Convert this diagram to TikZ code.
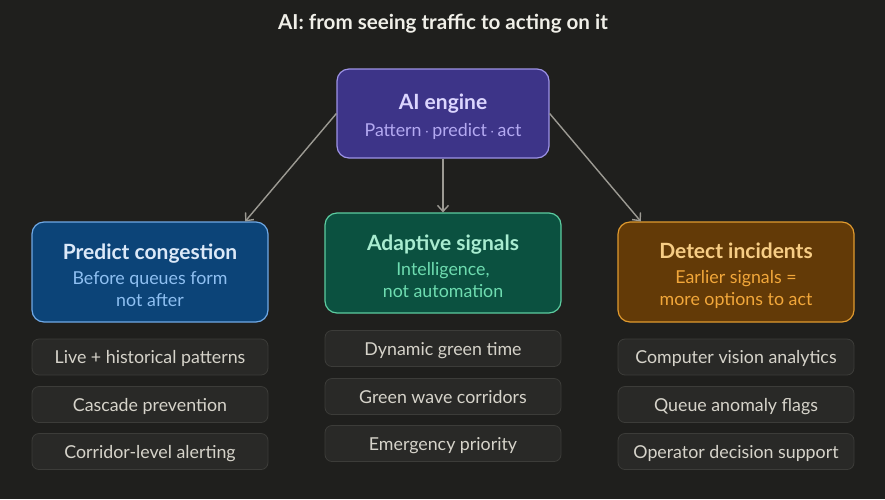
\documentclass[tikz,border=0pt]{standalone}
\usepackage{fontspec}
\setmainfont{Lato}
\usetikzlibrary{arrows.meta}

\definecolor{bg}{HTML}{1F1F1D}
\definecolor{heading}{HTML}{F0EFE8}
\definecolor{arrowc}{HTML}{9C9A93}
\definecolor{itemfill}{HTML}{292927}
\definecolor{itemline}{HTML}{3C3C39}
\definecolor{itemtext}{HTML}{D6D3CA}
\definecolor{aifill}{HTML}{3D3488}
\definecolor{ailine}{HTML}{9D93E6}
\definecolor{aititle}{HTML}{DCD6FF}
\definecolor{aisub}{HTML}{B4AAF2}
\definecolor{bluefill}{HTML}{0C4478}
\definecolor{blueline}{HTML}{6FA9E6}
\definecolor{bluetitle}{HTML}{DCE9F8}
\definecolor{bluesub}{HTML}{8FC0F2}
\definecolor{greenfill}{HTML}{0B5140}
\definecolor{greenline}{HTML}{5CCCA0}
\definecolor{greentitle}{HTML}{A8ECD0}
\definecolor{greensub}{HTML}{6EDCB0}
\definecolor{orangefill}{HTML}{633A07}
\definecolor{orangeline}{HTML}{E09A2E}
\definecolor{orangetitle}{HTML}{F7CD85}
\definecolor{orangesub}{HTML}{F2A73A}

\newcommand{\boxhead}[2]{\textcolor{#1}{\bfseries\fontsize{21}{24}\selectfont #2}}

\begin{document}
\begin{tikzpicture}[x=1pt, y=-1pt,
    box/.style={draw, rounded corners=12pt, line width=1.2pt, minimum width=236pt,
        minimum height=100pt, inner sep=0pt},
    boxtext/.style={inner sep=0pt, align=center, font=\fontsize{17.8}{22}\selectfont},
    item/.style={draw=itemline, fill=itemfill, rounded corners=7pt, line width=0.8pt,
        minimum width=236pt, minimum height=36pt, inner sep=0pt, text=itemtext,
        text height=17pt, text depth=4pt, font=\fontsize{17.8}{20}\selectfont},
    link/.style={-{Straight Barb[length=6pt,width=11pt]}, draw=arrowc, line width=1.4pt}]
    \fill[bg] (0,0) rectangle (885,499);
    \useasboundingbox (0,0) rectangle (885,499);

    \node[text=heading, font=\bfseries\fontsize{20.6}{24}\selectfont] (T) at (443,24)
        {AI: from seeing traffic to acting on it};

    \node[box, fill=aifill, draw=ailine, minimum width=212pt, minimum height=89pt] (E) at (443,113.5) {};
    \node[boxtext, text=aisub] (Et) at ([yshift=-3pt]E)
        {\boxhead{aititle}{AI engine}\\[5pt] Pattern\,$\cdot$\,predict\,$\cdot$\,act};

    \node[box, fill=bluefill, draw=blueline] (P) at (150,272) {};
    \node[boxtext, text=bluesub] (Pt) at ([yshift=-3.5pt]P)
        {\boxhead{bluetitle}{Predict congestion}\\[3pt] Before queues form\\not after};
    \node[box, fill=greenfill, draw=greenline] (S) at (443,263) {};
    \node[boxtext, text=greensub] (St) at ([yshift=-3.5pt]S)
        {\boxhead{greentitle}{Adaptive signals}\\[3pt] Intelligence,\\not automation};
    \node[box, fill=orangefill, draw=orangeline] (D) at (736,272) {};
    \node[boxtext, text=orangesub] (Dt) at ([yshift=-3.5pt]D)
        {\boxhead{orangetitle}{Detect incidents}\\[3pt] Earlier signals =\\more options to act};

    \node[item] (P1) at (150,357) {Live + historical patterns};
    \node[item] (P2) at (150,404.5) {Cascade prevention};
    \node[item] (P3) at (150,451.5) {Corridor-level alerting};

    \node[item] (S1) at (443,348.5) {Dynamic green time};
    \node[item] (S2) at (443,396.5) {Green wave corridors};
    \node[item] (S3) at (443,443.5) {Emergency priority};

    \node[item] (D1) at (736,357) {Computer vision analytics};
    \node[item] (D2) at (736,404.5) {Queue anomaly flags};
    \node[item] (D3) at (736,451.5) {Operator decision support};

    \draw[link] (E.west) to (P.28);
    \draw[link] (E) to (S);
    \draw[link] (E.east) to (D.152);
\end{tikzpicture}
\end{document}
